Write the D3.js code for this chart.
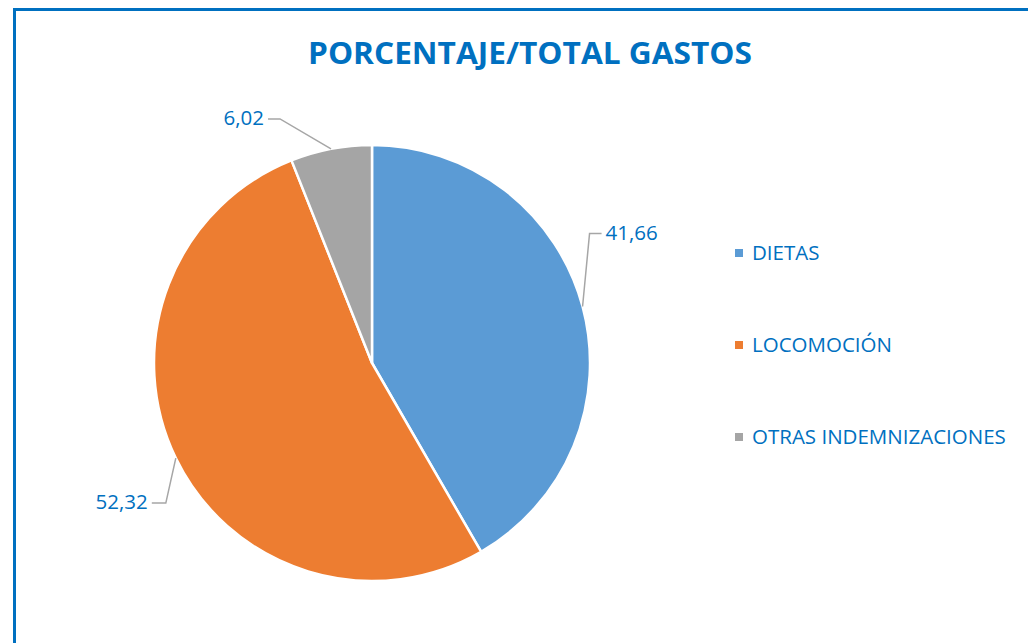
<!DOCTYPE html>
<html lang="es">
<head>
<meta charset="UTF-8">
<title>PORCENTAJE/TOTAL GASTOS</title>
<style>
	body{margin:0;background:#fff;font-family:"Open Sans","Liberation Sans",sans-serif;}
	svg{display:block;}
	.leader{fill:none;stroke:#a6a6a6;stroke-width:1.5;}
	.lbl{fill:#0070c0;font-size:20.5px;}
	.legend text{fill:#0070c0;font-size:20.5px;}
</style>
</head>
<body>
<script src="https://cdn.jsdelivr.net/npm/d3@7"></script>
<script>
var categories = ["DIETAS","LOCOMOCIÓN","OTRAS INDEMNIZACIONES"];
var values = [41.66, 52.32, 6.02];
var colors = ["#5b9bd5","#ed7d31","#a5a5a5"];
var labelText = ["41,66","52,32","6,02"];

var W = 1028, H = 643;
var cx = 372, cy = 363, r = 218;

var svg = d3.select("body").append("svg")
	.attr("width", W).attr("height", H);

// marco azul
svg.append("rect")
	.attr("x", 14.5).attr("y", 9.5)
	.attr("width", W + 20).attr("height", H + 20)
	.attr("fill", "#fff").attr("stroke", "#0070c0").attr("stroke-width", 3);

svg.append("text")
	.attr("x", 530).attr("y", 64)
	.attr("text-anchor", "middle")
	.attr("textLength", 444).attr("lengthAdjust", "spacingAndGlyphs")
	.style("font-family", "'Open Sans','Liberation Sans',sans-serif")
	.style("font-weight", "bold").style("font-size", "31px")
	.style("fill", "#0070c0")
	.text("PORCENTAJE/TOTAL GASTOS");

var data = categories.map(function(c, i){ return {name:c, value:values[i], color:colors[i], label:labelText[i]}; });

var pie = d3.pie().sort(null).value(function(d){ return d.value; });
var arc = d3.arc().innerRadius(0).outerRadius(r);
var arcs = pie(data);

var g = svg.append("g").attr("transform", "translate(" + cx + "," + cy + ")");

g.selectAll("path.slice")
	.data(arcs)
	.enter().append("path")
	.attr("class", "slice")
	.attr("d", arc)
	.attr("fill", function(d){ return d.data.color; })
	.attr("stroke", "#fff")
	.attr("stroke-width", 2.5)
	.attr("stroke-linejoin", "round");

// desplazamientos de las etiquetas (codo y extremo) respecto al borde
var elbow = [[7,-73],[-10,45],[-51,-30]];
var tail = [12,-14,-12];

arcs.forEach(function(d, i){
	var a = (d.startAngle + d.endAngle) / 2;
	var px = r * Math.sin(a), py = -r * Math.cos(a);
	var ex = px + elbow[i][0], ey = py + elbow[i][1];
	var tx = ex + tail[i];
	g.append("path")
		.attr("class", "leader")
		.attr("d", "M" + px + "," + py + "L" + ex + "," + ey + "L" + tx + "," + ey);
	g.append("text")
		.attr("class", "lbl")
		.attr("x", tx + (tail[i] > 0 ? 4 : -4))
		.attr("y", ey - 1)
		.attr("dy", "0.35em")
		.attr("text-anchor", tail[i] > 0 ? "start" : "end")
		.text(d.data.label);
});

var legend = svg.append("g").attr("class", "legend");
var ly = d3.scalePoint().domain(categories).range([253, 437]);
var items = legend.selectAll("g")
	.data(data)
	.enter().append("g")
	.attr("transform", function(d){ return "translate(735," + ly(d.name) + ")"; });
items.append("rect")
	.attr("x", 0).attr("y", -4).attr("width", 8).attr("height", 8)
	.attr("fill", function(d){ return d.color; });
items.append("text")
	.attr("x", 17).attr("dy", "0.35em")
	.text(function(d){ return d.name; });
</script>
</body>
</html>
